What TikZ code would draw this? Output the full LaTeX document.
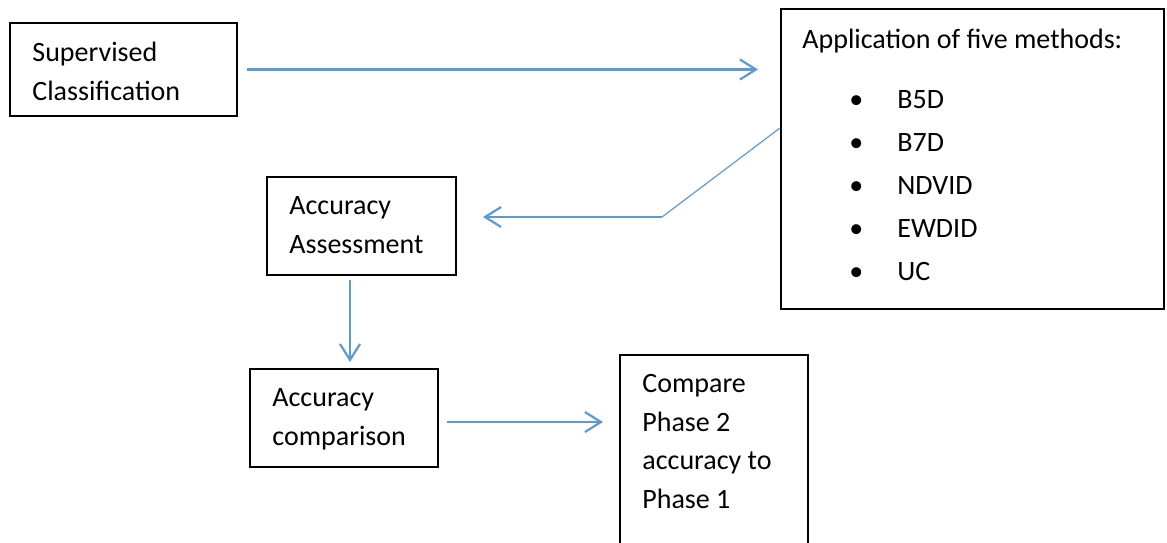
\documentclass[tikz,border=0pt]{standalone}
\usepackage{fontspec}
\setmainfont{Carlito}
\usetikzlibrary{arrows.meta,fit}
\definecolor{flowblue}{HTML}{5B9BD5}
\begin{document}
\begin{tikzpicture}[x=0.5pt,y=-0.5pt,
  box/.style={draw=black,line width=1pt,inner sep=0pt},
  txt/.style={font=\fontsize{14}{19.25}\selectfont,anchor=base west,inner sep=0pt,align=left},
  flow/.style={draw=flowblue,line width=1.1pt,
    -{Straight Barb[length=8pt,width=10pt,line width=1.1pt]}},
  link/.style={draw=flowblue,line width=0.6pt},
]
\useasboundingbox (0,0) rectangle (1167,542);

% boxes
\node[box,fit={(10,23)(237,116)}]   (sup)  {};
\node[box,fit={(781,9)(1164,309)}]  (appl) {};
\node[box,fit={(267,177)(456,275)}] (acc)  {};
\node[box,fit={(250,369)(438,467)}] (cmp)  {};
\node[box,fit={(620,355)(808,560)}] (ph)   {};

% texts (anchored at the baseline of their last line)
\node[txt] (supT) at (32,100)  {Supervised\\Classification};
\node[txt] (accT) at (289,253) {Accuracy\\Assessment};
\node[txt] (cmpT) at (272,445) {Accuracy\\comparison};
\node[txt] (phT)  at (642,508) {Compare\\Phase 2\\accuracy to\\Phase 1};
\node[txt] (applT) at (802,48) {Application of five methods:};
\node[txt,font=\fontsize{14}{21.5}\selectfont] (list) at (849,280)
  {\makebox[24pt][l]{•}B5D\\\makebox[24pt][l]{•}B7D\\\makebox[24pt][l]{•}NDVID\\
   \makebox[24pt][l]{•}EWDID\\\makebox[24pt][l]{•}UC};

% connectors
\draw[flow] ([xshift=4.5pt]sup.east) -- ([xshift=-11pt]appl.west |- sup.east);
\coordinate (bend) at (662,217);
\draw[link] ([yshift=-60pt]appl.north west) -- (bend);
\draw[flow] (bend) -- ([xshift=13pt]acc.east |- bend);
\draw[flow] ([xshift=-5.75pt,yshift=-2pt]acc.south) -- ([xshift=-5.75pt,yshift=3pt]acc.south |- cmp.north);
\draw[flow] ([xshift=4pt,yshift=-2pt]cmp.east) -- ([xshift=-8pt,yshift=-2pt]ph.west |- cmp.east);
\end{tikzpicture}
\end{document}
